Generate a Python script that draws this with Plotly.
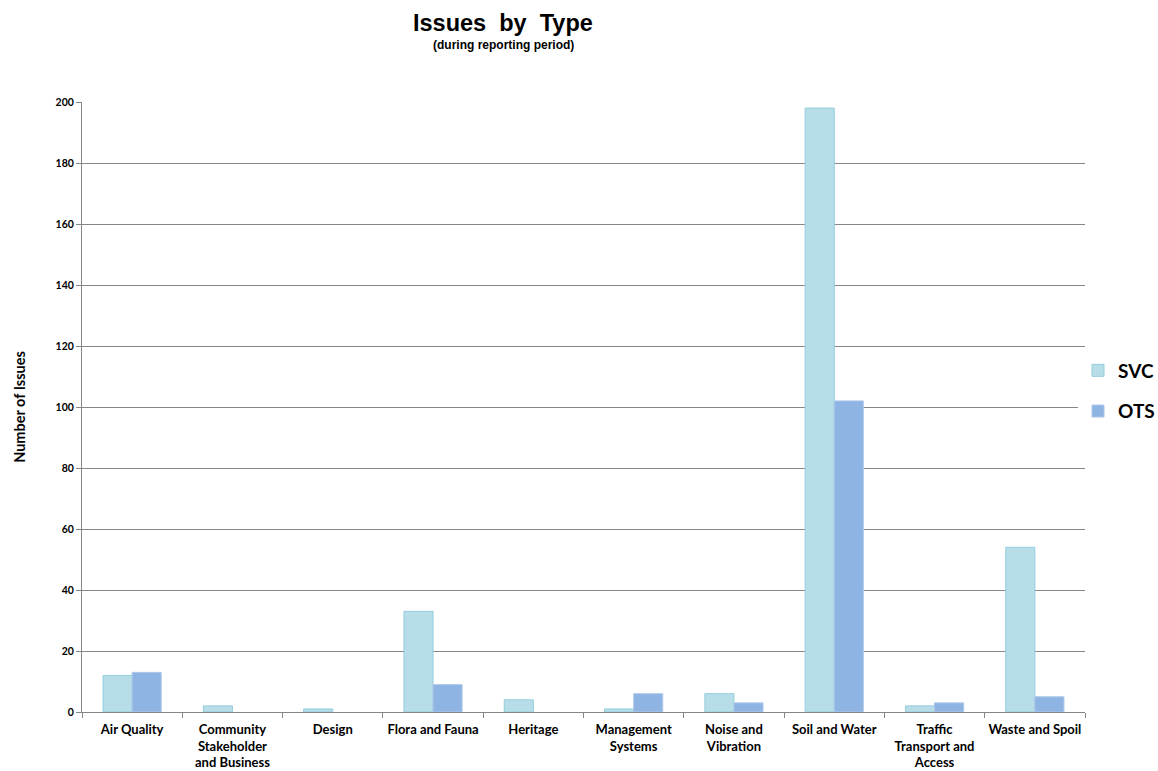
import plotly.graph_objects as go

categories = [
    "Air Quality",
    "Community<br>Stakeholder<br>and Business",
    "Design",
    "Flora and Fauna",
    "Heritage",
    "Management<br>Systems",
    "Noise and<br>Vibration",
    "Soil and Water",
    "Traffic<br>Transport and<br>Access",
    "Waste and Spoil",
]
svc_values = [12, 2, 1, 33, 4, 1, 6, 198, 2, 54]
ots_values = [13, 0, 0, 9, 0, 6, 3, 102, 3, 5]
y_ticks = [0, 20, 40, 60, 80, 100, 120, 140, 160, 180, 200]

label_font = "Lato, 'Open Sans', sans-serif"
title_font = "Liberation Sans, Arial, sans-serif"


def outline_widths(values):
    # empty categories get no outline so nothing is drawn on the baseline
    return [1 if v > 0 else 0 for v in values]


fig = go.Figure()
fig.add_trace(go.Bar(
    name="SVC", x=categories, y=svc_values,
    marker=dict(color="#B7DDE8",
                line=dict(color="#93CDDD", width=outline_widths(svc_values))),
    legendgroup="a",
))
fig.add_trace(go.Bar(
    name="OTS", x=categories, y=ots_values,
    marker=dict(color="#8EB4E3",
                line=dict(color="#B0C8EA", width=outline_widths(ots_values))),
    legendgroup="b",
))

L, R, T, B = 82, 73, 102, 59
W, H = 1158, 771
pw = W - L - R
ph = H - T - B


def px_to_paper(xp, yp):
    return (xp - L) / pw, (H - B - yp) / ph


lx, ly = px_to_paper(1078, 391)

fig.update_layout(
    width=W, height=H,
    margin=dict(l=L, r=R, t=T, b=B, autoexpand=False),
    paper_bgcolor="white", plot_bgcolor="white",
    barmode="group", bargap=0.42, bargroupgap=0,
    showlegend=True,
    legend=dict(
        x=lx, y=ly, xanchor="left", yanchor="middle",
        font=dict(family=label_font, size=19, color="black", weight="bold"),
        traceorder="grouped", tracegroupgap=13,
        itemwidth=30,
    ),
    xaxis=dict(
        showline=True, linecolor="#868686", linewidth=1,
        ticks="outside", tickson="boundaries", ticklen=5, tickcolor="#868686",
        tickangle=0,
        tickfont=dict(family=label_font, size=13, color="black", weight="bold"),
        ticklabelstandoff=5,
        showgrid=False,
    ),
    yaxis=dict(
        range=[0, 200], tickvals=y_ticks,
        showline=True, linecolor="#868686", linewidth=1,
        ticks="outside", ticklen=5, tickcolor="#868686",
        showgrid=True, gridcolor="#868686", gridwidth=1,
        tickfont=dict(family=label_font, size=10.5, color="black", weight="bold"),
        title=dict(text="Number of Issues", standoff=26,
                   font=dict(family=label_font, size=14.5, color="black", weight="bold")),
        zeroline=False,
    ),
)

tx, ty = px_to_paper(503, 23)
sx, sy = px_to_paper(503, 45)
fig.add_annotation(text="Issues  by  Type", x=tx, y=ty, xref="paper", yref="paper",
                   showarrow=False, xanchor="center", yanchor="middle",
                   font=dict(family=title_font, size=23.5, color="black", weight="bold"))
fig.add_annotation(text="(during reporting period)", x=sx, y=sy, xref="paper", yref="paper",
                   showarrow=False, xanchor="center", yanchor="middle",
                   font=dict(family=title_font, size=12, color="black", weight="bold"))

fig.write_html("out.html")
